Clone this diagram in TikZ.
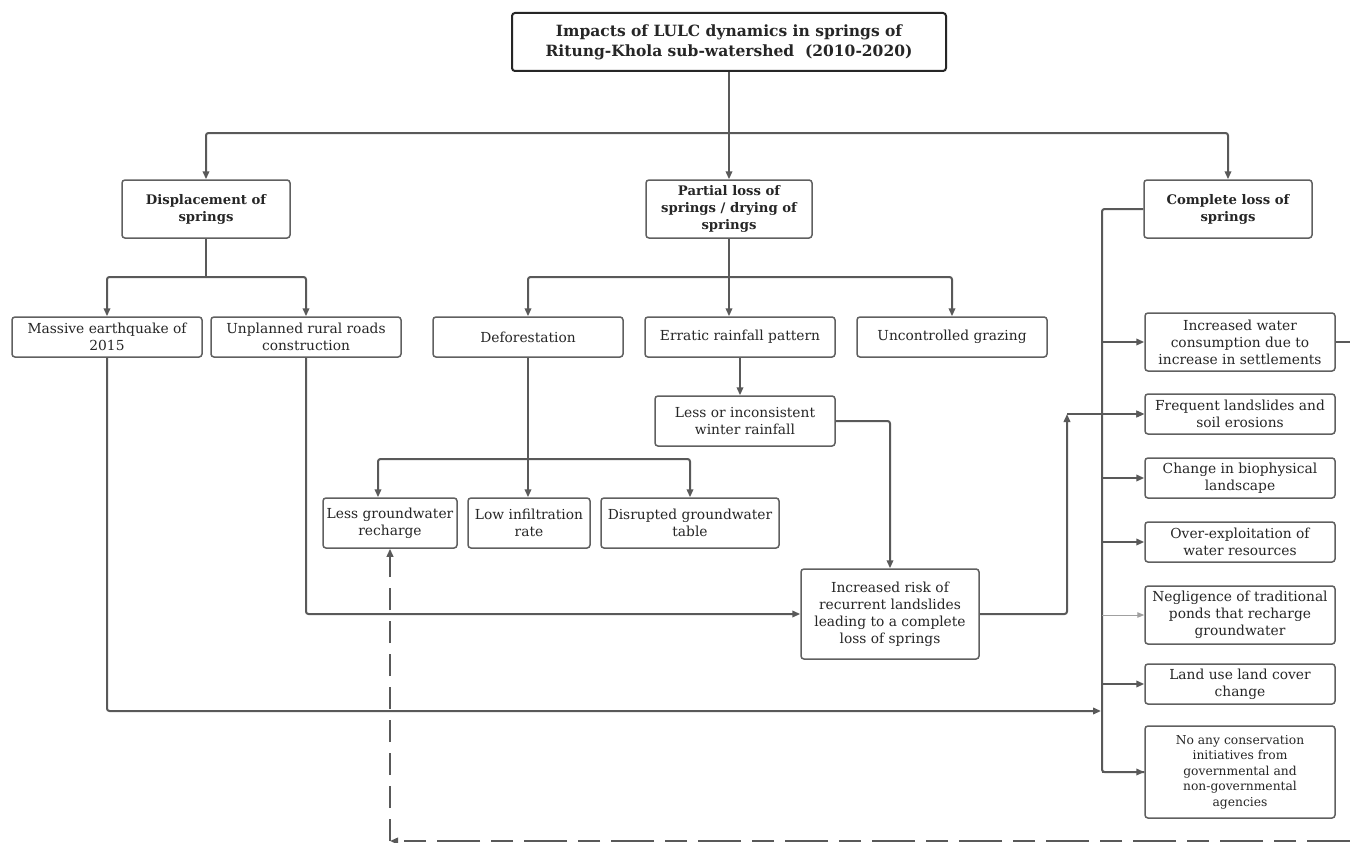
\documentclass[tikz,border=0pt]{standalone}
\usepackage{fontspec}
\setmainfont{DejaVu Serif}
\usetikzlibrary{arrows.meta}
\definecolor{linec}{HTML}{595959}
\definecolor{boxc}{HTML}{606060}
\definecolor{txtc}{HTML}{262626}
\definecolor{thinc}{HTML}{A0A0A0}
\tikzset{
  box/.style={draw=boxc, line width=1.5pt, rounded corners=3pt, align=center, inner sep=0pt,
    text=txtc, font=\fontsize{13.8}{17}\selectfont},
  hbox/.style={box, font=\bfseries\fontsize{13.2}{17}\selectfont},
  tbox/.style={box, draw=txtc, line width=2pt, font=\bfseries\fontsize{15.5}{20}\selectfont},
  sbox/.style={box, font=\fontsize{12.3}{15.5}\selectfont},
  conn/.style={draw=linec, line width=2pt, rounded corners=2.5pt},
  arr/.style={conn, -{Triangle[length=8pt,width=6.5pt]}},
  darr/.style={arr, rounded corners=0pt, dash pattern=on 22pt off 11pt},
  dharr/.style={arr, rounded corners=0pt, dash pattern=on 43pt off 11pt on 22pt off 11pt},
  thinarr/.style={draw=thinc, line width=1pt, -{Triangle[length=7pt,width=5.5pt]}, fill=linec},
  wh/.style 2 args={minimum width=#1pt, minimum height=#2pt}
}
\begin{document}
\begin{tikzpicture}[x=1pt,y=-1pt]
\useasboundingbox (0,0) rectangle (1350,843);
\fill[white] (0,0) rectangle (1350,843);

% nodes
\node[tbox, wh={434}{58}] (title) at (729,42) {Impacts of LULC dynamics in springs of\\Ritung-Khola sub-watershed\ \ (2010-2020)};
\node[hbox, wh={168}{58}] (disp) at (206,209) {Displacement of\\springs};
\node[hbox, wh={166}{58}] (partial) at (729,209) {Partial loss of\\springs / drying of\\springs};
\node[hbox, wh={168}{58}] (complete) at (1228,209) {Complete loss of\\springs};

\node[box, wh={190}{40}] (massive) at (107,337) {Massive earthquake of\\2015};
\node[box, wh={190}{40}] (unplanned) at (306,337) {Unplanned rural roads\\construction};
\node[box, wh={190}{40}] (defor) at (528,337) {Deforestation};
\node[box, wh={190}{40}] (erratic) at (740,337) {Erratic rainfall pattern};
\node[box, wh={190}{40}] (graze) at (952,337) {Uncontrolled grazing};

\node[box, wh={180}{50}] (lessinc) at (745,421) {Less or inconsistent\\winter rainfall};
\node[box, wh={134}{50}] (lessgw) at (390,523) {Less groundwater\\recharge};
\node[box, wh={122}{50}] (lowinf) at (529,523) {Low infiltration\\rate};
\node[box, wh={178}{50}] (disrupt) at (690,523) {Disrupted groundwater\\table};
\node[box, wh={178}{90}] (risk) at (890,614) {Increased risk of\\recurrent landslides\\leading to a complete\\loss of springs};

\node[box, wh={190}{58}] (consump) at (1240,342) {Increased water\\consumption due to\\increase in settlements};
\node[box, wh={190}{40}] (frequent) at (1240,414) {Frequent landslides and\\soil erosions};
\node[box, wh={190}{40}] (biophys) at (1240,478) {Change in biophysical\\landscape};
\node[box, wh={190}{40}] (overexp) at (1240,542) {Over-exploitation of\\water resources};
\node[box, wh={190}{58}] (neglig) at (1240,615) {Negligence of traditional\\ponds that recharge\\groundwater};
\node[box, wh={190}{40}] (landuse) at (1240,684) {Land use land cover\\change};
\node[sbox, wh={190}{92}] (noany) at (1240,772) {No any conservation\\initiatives from\\governmental and\\non-governmental\\agencies};

% junction coordinates
\coordinate (j1) at (729,133);
\coordinate (j2) at (206,277);
\coordinate (j3) at (729,277);
\coordinate (j4) at (528,459);
\coordinate (busTop) at (1102,209);
\coordinate (busBot) at (1102,772);
\coordinate (mq) at (1101,711);
\coordinate (rk) at (1067,414);
\coordinate (edgeR) at (1350,342);
\coordinate (dR) at (1350,841);
\coordinate (dL) at (390,841);

% top level
\draw[conn] (title.south) -- (j1);
\draw[arr] (j1) -| (disp.north);
\draw[arr] (j1) -- (partial.north);
\draw[arr] (j1) -| (complete.north);

% displacement
\draw[conn] (disp.south) -- (j2);
\draw[arr] (j2) -| (massive.north);
\draw[arr] (j2) -| (unplanned.north);

% partial loss
\draw[conn] (partial.south) -- (j3);
\draw[arr] (j3) -| (defor.north);
\draw[arr] (j3) -- (j3 |- erratic.north);
\draw[arr] (j3) -| (graze.north);
\draw[arr] (erratic.south) -- (erratic.south |- lessinc.north);

% deforestation
\draw[conn] (defor.south) -- (j4);
\draw[arr] (j4) -| ([xshift=-12pt]lessgw.north);
\draw[arr] (j4) -- (j4 |- lowinf.north);
\draw[arr] (j4) -| (disrupt.north);

% rainfall to risk
\draw[arr] (lessinc.east) -| (risk.north);
% roads to risk
\draw[arr] (unplanned.south) |- (risk.west);
% risk to frequent
\draw[arr] (risk.east) -| (rk);
\draw[arr] (rk) -- (frequent.west);
% earthquake to bus
\draw[arr] (massive.south) |- (mq);

% bus of complete loss
\draw[conn] (complete.west) -- (busTop) -- (busBot) -- (noany.west);
\draw[arr] (busBot) -- (noany.west);
\draw[arr] (busTop |- consump.west) -- (consump.west);
\draw[arr] (busTop |- frequent.west) -- (frequent.west);
\draw[arr] (busTop |- biophys.west) -- (biophys.west);
\draw[arr] (busTop |- overexp.west) -- (overexp.west);
\draw[thinarr] (busTop |- neglig.west) -- (neglig.west);
\draw[arr] (busTop |- landuse.west) -- (landuse.west);

% feedback
\draw[conn] (consump.east) -- (edgeR);
\draw[dharr] (dR) -- (dL);
\draw[darr] (dL) -- (lessgw.south);
\end{tikzpicture}
\end{document}
